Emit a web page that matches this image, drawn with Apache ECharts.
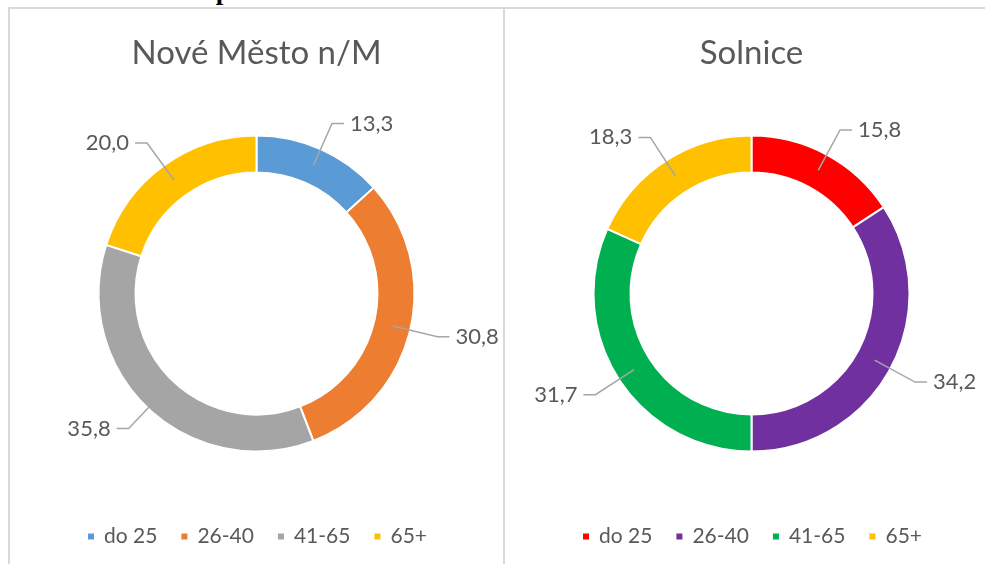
<!DOCTYPE html>
<html>
<head>
<meta charset="utf-8">
<script src="https://cdn.jsdelivr.net/npm/echarts@6/dist/echarts.min.js"></script>
<style>
  html, body { margin: 0; padding: 0; background: #fff; overflow: hidden; }
  body { width: 985px; height: 564px; position: relative; }
  .caption {
    position: absolute; left: 12px; top: -23px;
    font: bold 27px/27px "Liberation Serif", serif; color: #000; white-space: nowrap;
  }
  .panel {
    position: absolute; top: 7px; height: 600px;
    border: 2px solid #d9d9d9; box-sizing: border-box; background: #fff;
  }
  .chart { position: absolute; top: 0; width: 497px; height: 564px; }
</style>
</head>
<body>
<div class="caption">Graf č. 4: Věk respondentů</div>
<div class="panel" style="left:8px;width:497px"></div>
<div class="panel" style="left:503px;width:520px"></div>
<div class="chart" id="chartLeft" style="left:8px"></div>
<div class="chart" id="chartRight" style="left:503px"></div>
<script>
// věkové kategorie a podíly (%)
const categories = ["do 25", "26-40", "41-65", "65+"];
const valuesNM = [13.3, 30.8, 35.8, 20.0];
const valuesSolnice = [15.8, 34.2, 31.7, 18.3];
const colorsNM = ["#5B9BD5", "#ED7D31", "#A5A5A5", "#FFC000"];
const colorsSolnice = ["#FF0000", "#7030A0", "#00B050", "#FFC000"];

const FONT = "Lato";
const TEXT = "#595959";

function fmt(v) {
  return v.toFixed(1).replace(".", ",");
}

function buildOption(title, values, colors) {
  const data = categories.map(function (name, i) {
    return { name: name, value: values[i], itemStyle: { color: colors[i] } };
  });
  return {
    animation: false,
    textStyle: { fontFamily: FONT },
    title: {
      text: title,
      left: "center",
      top: 32,
      textStyle: { fontFamily: FONT, fontSize: 33, fontWeight: "normal", color: TEXT },
    },
    legend: {
      data: categories,
      left: "center",
      top: 521,
      icon: "rect",
      itemWidth: 8,
      itemHeight: 8,
      itemGap: 22,
      textStyle: { fontFamily: FONT, fontSize: 21, color: TEXT, padding: [0, 0, 0, 4] },
    },
    series: [
      {
        // prstenec
        type: "pie",
        radius: [121, 158],
        center: ["50%", 293.5],
        startAngle: 90,
        clockwise: true,
        silent: true,
        itemStyle: { borderColor: "#fff", borderWidth: 2 },
        label: { show: false },
        labelLine: { show: false },
        data: data,
      },
      {
        // nosič popisků - vodicí čáry začínají uprostřed prstence
        type: "pie",
        radius: [0, 140],
        center: ["50%", 293.5],
        startAngle: 90,
        clockwise: true,
        silent: true,
        z: 5,
        itemStyle: { color: "transparent" },
        label: {
          show: true,
          position: "outside",
          formatter: function (p) { return fmt(p.value); },
          fontFamily: FONT,
          fontSize: 22,
          color: TEXT,
          overflow: "none",
          distanceToLabelLine: 6,
        },
        labelLine: {
          show: true,
          length: 46,
          length2: 12,
          lineStyle: { color: "#A6A6A6", width: 1.5 },
        },
        data: categories.map(function (name, i) {
          return { name: name, value: values[i] };
        }),
      },
    ],
  };
}

const left = echarts.init(document.getElementById("chartLeft"));
left.setOption(buildOption("Nové Město n/M", valuesNM, colorsNM));

const right = echarts.init(document.getElementById("chartRight"));
right.setOption(buildOption("Solnice", valuesSolnice, colorsSolnice));
</script>
</body>
</html>
